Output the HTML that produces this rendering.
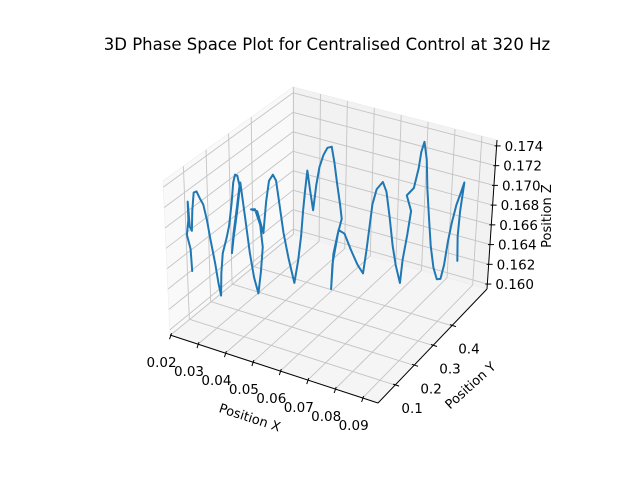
<!DOCTYPE html>
<html><head><meta charset="utf-8"><style>
html,body{margin:0;padding:0;background:#fff;}
svg{display:block;font-family:"DejaVu Sans","Liberation Sans",sans-serif;}
</style></head><body>
<svg id="chart" width="640" height="480" viewBox="0 0 640 480">
<text x="327" y="50" font-size="16.5" text-anchor="middle" fill="#000">3D Phase Space Plot for Centralised Control at 320 Hz</text>
<g id="panes"></g>
<g id="grid"></g>
<g id="axes"></g>
<g id="series"></g>
<text x="250" y="422" font-size="13" text-anchor="middle" transform="rotate(18 250 417)">Position X</text>
<text x="470" y="390" font-size="13" text-anchor="middle" transform="rotate(-42 470 385)">Position Y</text>
<text x="546" y="221" font-size="13" text-anchor="middle" transform="rotate(-90 546 216)">Position Z</text>
</svg>
<script>
const xTicks = [0.02,0.03,0.04,0.05,0.06,0.07,0.08,0.09];
const yTicks = [0.1,0.2,0.3,0.4];
const zTicks = [0.160,0.162,0.164,0.166,0.168,0.170,0.172,0.174];
const xTickLabels = ["0.02","0.03","0.04","0.05","0.06","0.07","0.08","0.09"];
const yTickLabels = ["0.1","0.2","0.3","0.4"];
const zTickLabels = ["0.160","0.162","0.164","0.166","0.168","0.170","0.172","0.174"];
const xLim = [0.0198, 0.0956];
const yLim = [0.0097, 0.585];
const zLim = [0.1595, 0.1746];
const xs = [0.0157,0.0155,0.0147,0.0152,0.0152,0.0155,0.0160,0.0163,0.0168,0.0175,0.0183,0.0191,0.0199,0.0206,0.0217,0.0224,0.0230,0.0232,0.0237,0.0248,0.0255,0.0263,0.0268,0.0273,0.0279,0.0284,0.0276,0.0266,0.0261,0.0266,0.0276,0.0286,0.0297,0.0307,0.0317,0.0328,0.0335,0.0341,0.0335,0.0322,0.0312,0.0328,0.0343,0.0351,0.0359,0.0369,0.0377,0.0384,0.0395,0.0408,0.0423,0.0433,0.0441,0.0446,0.0451,0.0457,0.0464,0.0472,0.0480,0.0488,0.0498,0.0508,0.0519,0.0526,0.0534,0.0542,0.0547,0.0537,0.0526,0.0521,0.0524,0.0539,0.0555,0.0573,0.0591,0.0606,0.0614,0.0622,0.0627,0.0637,0.0653,0.0663,0.0673,0.0684,0.0694,0.0707,0.0712,0.0722,0.0730,0.0717,0.0735,0.0746,0.0751,0.0758,0.0766,0.0771,0.0779,0.0787,0.0797,0.0808,0.0818,0.0826,0.0833,0.0841,0.0851,0.0862,0.0869,0.0862,0.0859,0.0862];
const ys = [0.1708,0.1695,0.1653,0.1681,0.1681,0.1695,0.1722,0.1736,0.1764,0.1805,0.1846,0.1888,0.1929,0.1971,0.2026,0.2067,0.2095,0.2109,0.2136,0.2191,0.2233,0.2274,0.2302,0.2329,0.2357,0.2385,0.2343,0.2288,0.2260,0.2288,0.2343,0.2398,0.2454,0.2509,0.2564,0.2619,0.2661,0.2688,0.2661,0.2592,0.2536,0.2619,0.2702,0.2743,0.2785,0.2840,0.2881,0.2923,0.2978,0.3047,0.3130,0.3185,0.3226,0.3254,0.3282,0.3309,0.3351,0.3392,0.3433,0.3475,0.3530,0.3585,0.3640,0.3682,0.3723,0.3765,0.3792,0.3737,0.3682,0.3654,0.3668,0.3751,0.3834,0.3930,0.4027,0.4110,0.4151,0.4192,0.4220,0.4275,0.4358,0.4413,0.4468,0.4524,0.4579,0.4648,0.4675,0.4731,0.4772,0.4703,0.4800,0.4855,0.4882,0.4924,0.4965,0.4993,0.5034,0.5076,0.5131,0.5186,0.5241,0.5283,0.5324,0.5365,0.5421,0.5476,0.5517,0.5476,0.5462,0.5476];
const zs = [0.1627,0.1649,0.1663,0.1678,0.1696,0.1671,0.1667,0.1687,0.1705,0.1706,0.1699,0.1693,0.1678,0.1659,0.1634,0.1614,0.1602,0.1624,0.1644,0.1659,0.1671,0.1694,0.1714,0.1722,0.1721,0.1711,0.1689,0.1663,0.1644,0.1659,0.1684,0.1714,0.1678,0.1644,0.1619,0.1603,0.1624,0.1649,0.1671,0.1687,0.1687,0.1685,0.1663,0.1694,0.1715,0.1721,0.1715,0.1694,0.1663,0.1637,0.1612,0.1634,0.1659,0.1684,0.1704,0.1724,0.1704,0.1684,0.1709,0.1727,0.1739,0.1746,0.1747,0.1731,0.1709,0.1689,0.1674,0.1659,0.1639,0.1604,0.1629,0.1663,0.1659,0.1642,0.1627,0.1618,0.1641,0.1669,0.1687,0.1702,0.1709,0.1699,0.1674,0.1644,0.1624,0.1606,0.1629,0.1654,0.1678,0.1694,0.1701,0.1721,0.1737,0.1747,0.1729,0.1699,0.1669,0.1641,0.1619,0.1607,0.1607,0.1621,0.1644,0.1663,0.1681,0.1694,0.1703,0.1674,0.1649,0.1624];

const NS = "http://www.w3.org/2000/svg";
const A=[170,335], B=[378,403], C=[487,289], D=[293,234];
function projUVW(u,v,w){
  const bx = A[0]+u*(B[0]-A[0])+v*(D[0]-A[0])+u*v*(C[0]-B[0]-D[0]+A[0]);
  const by = A[1]+u*(B[1]-A[1])+v*(D[1]-A[1])+u*v*(C[1]-B[1]-D[1]+A[1]);
  const ezx = -7+7*v+10*u, ezy = -154+7*v-2*u;
  return [bx+w*ezx, by+w*ezy];
}
function sx(x){return (x-xLim[0])/(xLim[1]-xLim[0]);}
function sy(y){return (y-yLim[0])/(yLim[1]-yLim[0]);}
function sz(z){return (z-zLim[0])/(zLim[1]-zLim[0]);}
function proj(x,y,z){return projUVW(sx(x),sy(y),sz(z));}
function mk(tag,attrs,parent){const e=document.createElementNS(NS,tag);for(const k in attrs)e.setAttribute(k,attrs[k]);parent.appendChild(e);return e;}
function pts(arr){return arr.map(p=>p[0].toFixed(2)+","+p[1].toFixed(2)).join(" ");}

const panes=document.getElementById('panes');
let e;
e=mk('polygon',{points:pts([projUVW(0,0,0),projUVW(0,1,0),projUVW(0,1,1),projUVW(0,0,1)]),fill:'#f9f9f9',stroke:'#f0f0f0','stroke-width':0.8},panes);


e=mk('polygon',{points:pts([projUVW(0,1,0),projUVW(1,1,0),projUVW(1,1,1),projUVW(0,1,1)]),fill:'#f2f2f2',stroke:'#ececec','stroke-width':0.8},panes);


e=mk('polygon',{points:pts([projUVW(0,0,0),projUVW(1,0,0),projUVW(1,1,0),projUVW(0,1,0)]),fill:'#f5f5f5',stroke:'#eeeeee','stroke-width':0.8},panes);



const grid=document.getElementById('grid');
const gs={stroke:'#c4c4c4','stroke-width':0.9,fill:'none'};
function gl(a,b){const l=mk('line',Object.assign({x1:a[0],y1:a[1],x2:b[0],y2:b[1]},gs),grid);return l;}
xTicks.forEach(x=>{
  const u=sx(x);
  e=gl(projUVW(u,0,0),projUVW(u,1,0));
  
  
  e=gl(projUVW(u,1,0),projUVW(u,1,1));
  
  
});
yTicks.forEach(y=>{
  const v=sy(y);
  e=gl(projUVW(0,v,0),projUVW(1,v,0));
  
  
  e=gl(projUVW(0,v,0),projUVW(0,v,1));
  
  
});
zTicks.forEach(z=>{
  const w=sz(z);
  e=gl(projUVW(0,0,w),projUVW(0,1,w));
  
  
  e=gl(projUVW(0,1,w),projUVW(1,1,w));
  
  
});

const axes=document.getElementById('axes');
const as={stroke:'#000','stroke-width':1};
function al(a,b){return mk('line',Object.assign({x1:a[0],y1:a[1],x2:b[0],y2:b[1]},as),axes);}
e=al(projUVW(0,0,0),projUVW(1,0,0));


e=al(projUVW(1,0,0),projUVW(1,1,0));


e=al(projUVW(1,1,0),projUVW(1,1,1));


function tl(x,y,s,anchor){const t=mk('text',{x:x,y:y,'font-size':13.5,'text-anchor':anchor,'dominant-baseline':'central',fill:'#000'},axes);t.textContent=s;return t;}
xTicks.forEach((x,i)=>{
  const p=proj(x,yLim[0],zLim[0]);
  e=al([p[0]+1,p[1]-2],[p[0]-1,p[1]+4]);
  
  
  e=tl(p[0]-9,p[1]+28,xTickLabels[i],'middle');
  
  
});
yTicks.forEach((y,i)=>{
  const p=proj(xLim[1],y,zLim[0]);
  e=al([p[0]-2,p[1]-1],[p[0]+4,p[1]+1]);
  
  
  e=tl(p[0]+17,p[1]+24,yTickLabels[i],'middle');
  
  
});
zTicks.forEach((z,i)=>{
  const p=proj(xLim[1],yLim[1],z);
  e=al([p[0]-2,p[1]],[p[0]+4,p[1]]);
  
  
  e=tl(p[0]+8,p[1]+1,zTickLabels[i],'start');
  
  
});

const series=document.getElementById('series');
const linePts=xs.map((x,i)=>proj(x,ys[i],zs[i]));
e=mk('polyline',{points:pts(linePts),fill:'none',stroke:'#1f77b4','stroke-width':2,'stroke-linejoin':'round','stroke-linecap':'round'},series);


</script>
</body></html>
